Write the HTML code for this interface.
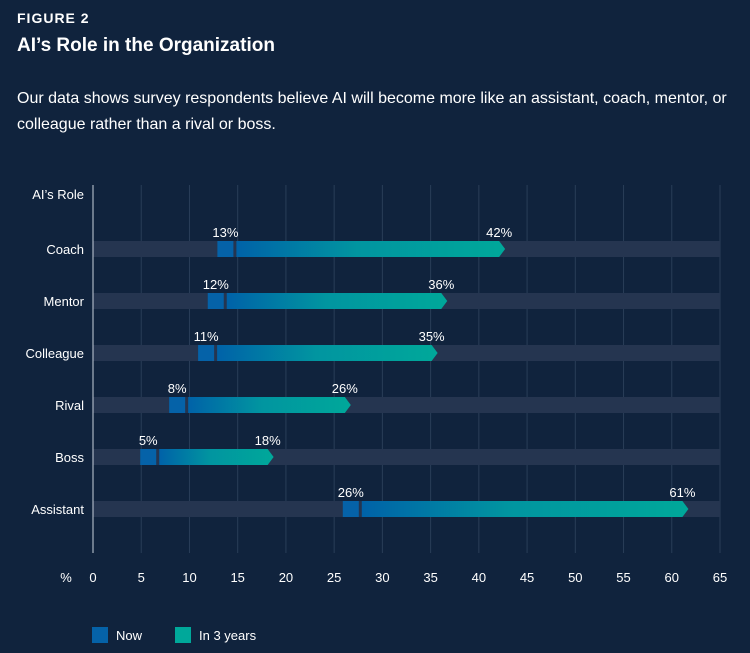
<!DOCTYPE html>
<html><head><meta charset="utf-8"><style>
body{margin:0;width:750px;height:653px;background:#10233d;font-family:"Liberation Sans",sans-serif;color:#fff;overflow:hidden}
.fig{position:absolute;left:17px;top:10px;font-size:14px;font-weight:bold;letter-spacing:1px}
.title{position:absolute;left:17px;top:35px;font-size:19px;font-weight:bold}
.sub{position:absolute;left:17px;top:86px;font-size:16px;line-height:26px;width:720px}
svg{position:absolute;left:0;top:0}
</style></head><body>
<div class="fig">FIGURE 2</div>
<div class="title">AI’s Role in the Organization</div>
<div class="sub">Our data shows survey respondents believe AI will become more like an assistant, coach, mentor, or colleague rather than a rival or boss.</div>
<svg id="chart" width="750" height="653">
<defs><linearGradient id="g" x1="0" x2="1" y1="0" y2="0"><stop offset="0" stop-color="#0062a8"/><stop offset="0.45" stop-color="#0195a0"/><stop offset="1" stop-color="#00a89a"/></linearGradient></defs>
</svg>
<script>
const categories=["Coach","Mentor","Colleague","Rival","Boss","Assistant"];
const nowValues=[13,12,11,8,5,26];
const futureValues=[42,36,35,26,18,61];
const ticks=[0,5,10,15,20,25,30,35,40,45,50,55,60,65];
const svg=document.getElementById('chart');
const NS='http://www.w3.org/2000/svg';
const x=v=>93+v*627/65;
const y=i=>249+i*52;
function mk(t,a,txt){const e=document.createElementNS(NS,t);for(const k in a)e.setAttribute(k,a[k]);if(txt!==undefined)e.textContent=txt;svg.appendChild(e);return e;}
ticks.forEach(t=>{
  if(t>0){const l=mk('line',{x1:x(t),x2:x(t),y1:185,y2:553,stroke:'#2a3d58','stroke-width':1});
  
  }
  const tx=mk('text',{x:x(t),y:582,'text-anchor':'middle','font-size':13,fill:'#fff'},t);
  
  
});
const pc=mk('text',{x:66,y:582,'text-anchor':'middle','font-size':13,fill:'#fff'},'%');


const ya=mk('text',{x:84,y:199,'text-anchor':'end','font-size':13,fill:'#fff'},'AI’s Role');


categories.forEach((c,i)=>{
  const cy=y(i);
  const tr=mk('rect',{x:x(0),y:cy-8,width:x(65)-x(0),height:16,fill:'#253550'});
  
  
  const lb=mk('text',{x:84,y:cy+5,'text-anchor':'end','font-size':13,fill:'#fff'},c);
  
  
  const n=nowValues[i],f=futureValues[i];
  const x0=x(n)-1,x1=x0+16,x2=x1+3,xe=x(f)+1;
  const p=mk('path',{d:`M${x2},${cy-8}H${xe}L${xe+6},${cy}L${xe},${cy+8}H${x2}Z`,fill:'url(#g)'});
  
  
  const r=mk('rect',{x:x0,y:cy-8,width:16,height:16,fill:'#0562a8'});
  
  
  const t1=mk('text',{x:x0+8,y:cy-12,'text-anchor':'middle','font-size':13,fill:'#fff'},n+'%');
  
  
  const t2=mk('text',{x:xe,y:cy-12,'text-anchor':'middle','font-size':13,fill:'#fff'},f+'%');
  
  
});
const ax=mk('line',{x1:93,x2:93,y1:185,y2:553,stroke:'#c8d0dc','stroke-width':1});


[['Now','#0562a8',92,'legend-now'],['In 3 years','#00a89a',175,'legend-future']].forEach(([t,c,lx,nm])=>{
  const r=mk('rect',{x:lx,y:627,width:16,height:16,fill:c});
  
  
  const tx=mk('text',{x:lx+24,y:640,'font-size':13,fill:'#fff'},t);
  
  
});
</script>
</body></html>
